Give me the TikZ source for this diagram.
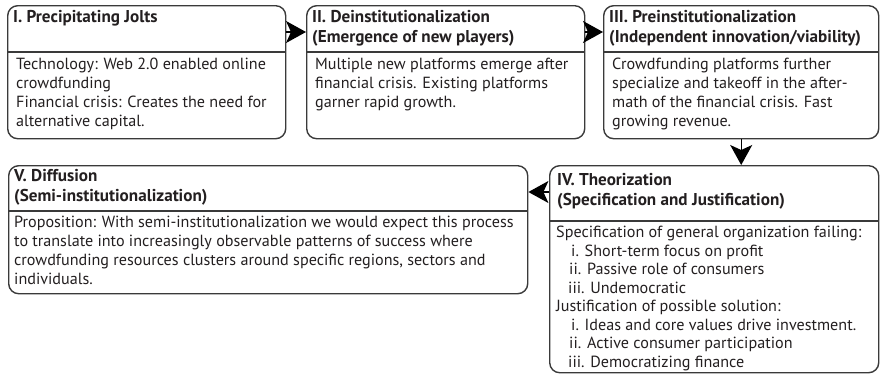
\documentclass[tikz,border=0pt]{standalone}
\usepackage{fontspec}
\setmainfont{PT Sans}
\usetikzlibrary{arrows.meta}
\definecolor{edge}{HTML}{3A3A3A}
\definecolor{ink}{HTML}{231F20}
\tikzset{
  stagebox/.style={draw=edge, line width=1.4bp, rounded corners=10bp, inner sep=0pt, anchor=north west, fill=white},
  divider/.style={draw=edge, line width=1.1bp},
  titletext/.style={anchor=north west, inner sep=0pt, align=left, text=ink, font=\fontsize{17.2}{20.5}\selectfont\bfseries},
  bodytext/.style={anchor=north west, inner sep=0pt, align=left, text=ink, font=\fontsize{16.2}{19}\selectfont},
  bodytextiv/.style={anchor=north west, inner sep=0pt, align=left, text=ink, font=\fontsize{16.2}{18.6}\selectfont},
  flow/.style={draw=black, line width=1.2bp, -{Stealth[length=20bp,width=22bp,inset=5bp]}}
}
\begin{document}
\begin{tikzpicture}[x=1bp,y=-1bp]
\useasboundingbox (0,0) rectangle (880,375);
% boxes
\node[stagebox, minimum width=278bp, minimum height=133bp] (b1) at (7,5) {};
\node[stagebox, minimum width=278bp, minimum height=133bp] (b2) at (306,5) {};
\node[stagebox, minimum width=275bp, minimum height=133bp] (b3) at (603,5) {};
\node[stagebox, minimum width=329bp, minimum height=207bp] (b4) at (549,165) {};
\node[stagebox, minimum width=519bp, minimum height=128bp] (b5) at (8,165) {};
% dividers
\draw[divider] ([yshift=-47bp]b1.north west) -- ([yshift=-47bp]b1.north east);
\draw[divider] ([yshift=-47bp]b2.north west) -- ([yshift=-47bp]b2.north east);
\draw[divider] ([yshift=-47bp]b3.north west) -- ([yshift=-47bp]b3.north east);
\draw[divider] ([yshift=-56bp]b4.north west) -- ([yshift=-56bp]b4.north east);
\draw[divider] ([yshift=-46bp]b5.north west) -- ([yshift=-46bp]b5.north east);
% titles
\node[titletext] (t1) at ([xshift=6bp,yshift=-5bp]b1.north west) {I. Precipitating Jolts};
\node[titletext] (t2) at ([xshift=6bp,yshift=-5bp]b2.north west) {II. Deinstitutionalization\\(Emergence of new players)};
\node[titletext] (t3) at ([xshift=6bp,yshift=-5bp]b3.north west) {III. Preinstitutionalization\\(Independent innovation/viability)};
\node[titletext] (t4) at ([xshift=8bp,yshift=-8bp]b4.north west) {IV. Theorization\\(Specification and Justification)};
\node[titletext] (t5) at ([xshift=6bp,yshift=-4bp]b5.north west) {V. Diffusion\\(Semi-institutionalization)};
% bodies
\node[bodytext] (d1) at ([xshift=9bp,yshift=-53bp]b1.north west) {Technology: Web 2.0 enabled online\\crowdfunding\\Financial crisis: Creates the need for\\alternative capital.};
\node[bodytext] (d2) at ([xshift=9bp,yshift=-53bp]b2.north west) {Multiple new platforms emerge after\\financial crisis. Existing platforms\\garner rapid growth.};
\node[bodytext] (d3) at ([xshift=9bp,yshift=-53bp]b3.north west) {Crowdfunding platforms further\\specialize and takeoff in the after-\\math of the financial crisis. Fast\\growing revenue.};
\node[bodytextiv] (d4) at ([xshift=7bp,yshift=-61bp]b4.north west) {Specification of general organization failing:\\\hspace*{15bp}i. Short-term focus on profit\\\hspace*{13bp}ii. Passive role of consumers\\\hspace*{12bp}iii. Undemocratic\\Justification of possible solution:\\\hspace*{15bp}i. Ideas and core values drive investment.\\\hspace*{13bp}ii. Active consumer participation\\\hspace*{12bp}iii. Democratizing finance};
\node[bodytext] (d5) at ([xshift=6bp,yshift=-51bp]b5.north west) {Proposition: With semi-institutionalization we would expect this process\\to translate into increasingly observable patterns of success where\\crowdfunding resources clusters around specific regions, sectors and\\individuals.};
% connectors
\draw[flow] ([yshift=-27bp]b1.north east) -- ([yshift=-27bp]b2.north west);
\draw[flow] ([yshift=-27bp]b2.north east) -- ([yshift=-27bp]b3.north west);
\draw[flow] (b3.south) -- (b3.south |- b4.north);
\draw[flow] ([yshift=-27bp]b4.north west) -- ([yshift=-27bp]b5.north east);
\end{tikzpicture}
\end{document}
